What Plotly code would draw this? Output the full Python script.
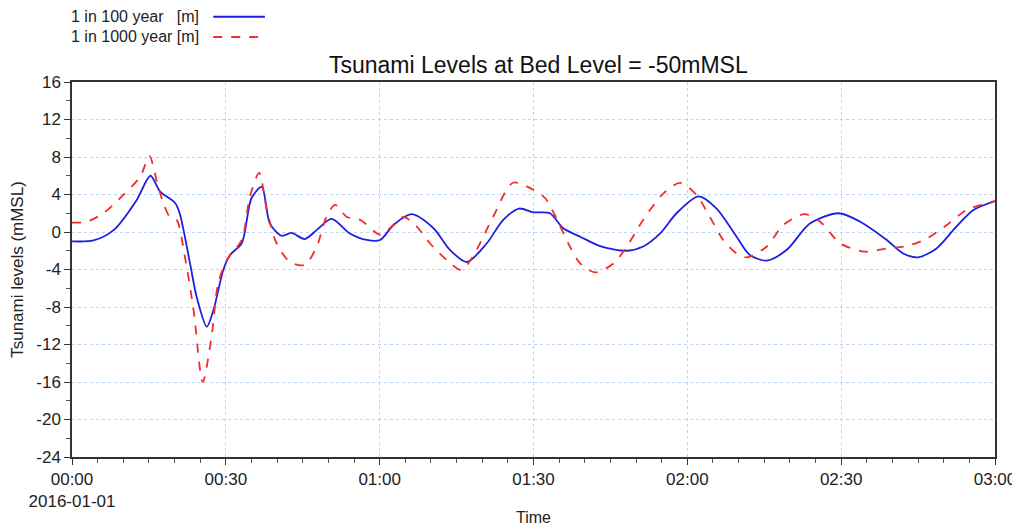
import pandas as pd
import plotly.graph_objects as go

# Data (minutes after 2016-01-01 00:00, level in mMSL)
t100 = [0, 4.2, 8.1, 12.6, 15.3, 17.2, 20.1, 21.0, 23.0, 24.3, 26.3, 27.6, 29.5, 30.8, 33.1, 35.0, 37.0,
        38.6, 40.9, 42.8, 45.4, 47.7, 50.6, 54.2, 57.5, 60.1, 62.7, 66.2, 70.5, 73.7, 77.0, 80.9, 84.1,
        87.2, 90.0, 93.2, 95.8, 99.1, 103.0, 108.2, 111.4, 114.7, 117.9, 122.2, 125.7, 129.6,
        132.2, 135.5, 139.4, 143.9, 149.5, 153.7, 158.9, 162.1, 165.0, 168.6, 172.5, 175.8, 180.0]
v100 = [-1.0, -0.9, 0.2, 3.4, 6.0, 4.3, 3.1, 2.0, -3.3, -6.9, -10.1, -8.3, -4.05, -2.45, -1.2, 3.6, 4.8,
        0.9, -0.4, -0.1, -0.75, 0.2, 1.4, -0.15, -0.85, -0.85, 0.75, 1.9, 0.4, -1.9, -3.2, -1.2, 1.3,
        2.5, 2.1, 2.0, 0.4, -0.5, -1.5, -2.0, -1.55, -0.15, 2.0, 3.8, 2.5, -0.5,
        -2.45, -3.05, -1.9, 0.9, 2.0, 1.1, -0.85, -2.3, -2.7, -1.75, 0.6, 2.35, 3.3]

t1000 = [0, 2.9, 6.1, 10.0, 13.3, 15.1, 16.5, 17.8, 19.1, 20.4, 22.0, 23.7, 25.5, 27.2, 28.5, 30.2, 33.1,
         34.7, 36.5, 38.0, 39.9, 42.5, 45.4, 47.7, 49.6, 51.3, 53.6, 56.2, 60.1, 62.0, 64.6, 67.2,
         69.8, 73.1, 75.9, 78.2, 82.1, 86.0, 90.0, 92.3, 94.6, 97.1, 99.1, 102.0, 105.6, 108.2, 111.4,
         115.3, 118.6, 121.8, 124.4, 127.0, 129.6, 131.6, 135.5, 138.7, 142.9, 145.9, 149.8, 154.6,
         158.9, 162.8, 166.7, 170.6, 174.5, 180.0]
v1000 = [1.0, 1.1, 2.0, 3.95, 5.9, 8.1, 5.5, 3.1, 1.6, 1.3, -2.6, -8.3, -16.0, -11.2, -5.5, -3.0, -0.85,
         3.8, 6.3, 2.35, -1.2, -3.2, -3.5, -1.6, 1.6, 2.9, 1.6, 1.3, -0.3, 0.4, 1.6, 0.6,
         -1.2, -3.0, -4.05, -2.6, 1.6, 5.25, 4.5, 3.6, 1.3, -1.55, -3.35, -4.3, -3.35, -1.55, 1.3,
         4.1, 5.25, 3.95, 1.6, -0.85, -2.3, -2.7, -1.55, 0.75, 1.9, 1.1, -1.2, -2.1,
         -1.75, -1.5, -0.7, 0.75, 2.35, 3.3]

start = pd.Timestamp("2016-01-01 00:00")
x100 = [start + pd.Timedelta(minutes=m) for m in t100]
x1000 = [start + pd.Timedelta(minutes=m) for m in t1000]

tick_min = [0, 30, 60, 90, 120, 150, 180]
tick_text = ["00:00<br>2016-01-01", "00:30", "01:00", "01:30", "02:00", "02:30", "03:00"]
tick_vals = [start + pd.Timedelta(minutes=m) for m in tick_min]

y_ticks = [16, 12, 8, 4, 0, -4, -8, -12, -16, -20, -24]
y_tick_text = [str(v) for v in y_ticks]

FONT = "Liberation Sans, Arial, sans-serif"
BLUE = "#1f1fe0"
RED = "#f52a2a"

fig = go.Figure()
fig.add_trace(go.Scatter(x=x100, y=v100, mode="lines", name="1 in 100 year   [m]",
                         line=dict(color=BLUE, width=1.8, shape="spline", smoothing=0.8)))
fig.add_trace(go.Scatter(x=x1000, y=v1000, mode="lines", name="1 in 1000 year [m]",
                         line=dict(color=RED, width=1.8, dash="dash", shape="spline", smoothing=0.8)))

# title
fig.add_annotation(xref="paper", yref="paper", x=0.505, y=1.045, xanchor="center", yanchor="middle",
                   text="Tsunami Levels at Bed Level = -50mMSL", showarrow=False,
                   font=dict(size=23, color="#111", family=FONT))
# manual legend (text left, sample right)
fig.add_annotation(xref="paper", yref="paper", x=-0.003, y=1.174, xanchor="left", yanchor="middle",
                   text="1 in 100 year   [m]", showarrow=False, font=dict(size=16, color="#222", family=FONT))
fig.add_annotation(xref="paper", yref="paper", x=-0.003, y=1.12, xanchor="left", yanchor="middle",
                   text="1 in 1000 year [m]", showarrow=False, font=dict(size=16, color="#222", family=FONT))
fig.add_shape(type="line", xref="paper", yref="paper", x0=0.153, x1=0.209, y0=1.174, y1=1.174,
              line=dict(color=BLUE, width=1.8))
fig.add_shape(type="line", xref="paper", yref="paper", x0=0.153, x1=0.209, y0=1.12, y1=1.12,
              line=dict(color=RED, width=1.8, dash="dash"))

# page body adds an 8px offset, so the figure is 8px smaller and margins shifted
fig.update_layout(
    width=1012, height=519,
    margin=dict(l=64, r=25, t=74, b=70, autoexpand=False),
    paper_bgcolor="white", plot_bgcolor="white",
    showlegend=False,
    font=dict(family=FONT, color="#222", size=16),
)
fig.update_xaxes(
    range=[start, start + pd.Timedelta(minutes=180)],
    tickvals=tick_vals, ticktext=tick_text,
    ticks="outside", ticklen=6, tickcolor="#333",
    minor=dict(dtick=5 * 60 * 1000, ticks="outside", ticklen=4, tickcolor="#555", showgrid=False),
    showgrid=True, gridcolor="#bcd5ee", griddash="dot", gridwidth=1,
    showline=True, linecolor="#333", linewidth=1.5, mirror=True,
    title=dict(text="Time", font=dict(size=16, family=FONT), standoff=2),
    tickfont=dict(size=17, family=FONT, color="#222"),
    zeroline=False, automargin=False,
)
fig.update_yaxes(
    range=[-24, 16], tickvals=y_ticks, ticktext=y_tick_text,
    ticks="outside", ticklen=6, tickcolor="#333",
    minor=dict(dtick=2, ticks="outside", ticklen=4, tickcolor="#555", showgrid=False),
    showgrid=True, gridcolor="#bcd5ee", griddash="dot", gridwidth=1,
    showline=True, linecolor="#333", linewidth=1.5, mirror=True,
    title=dict(text="Tsunami levels (mMSL)", font=dict(size=17, family=FONT), standoff=10),
    tickfont=dict(size=17, family=FONT, color="#222"),
    zeroline=False, automargin=False,
)

fig.write_html("out.html")
